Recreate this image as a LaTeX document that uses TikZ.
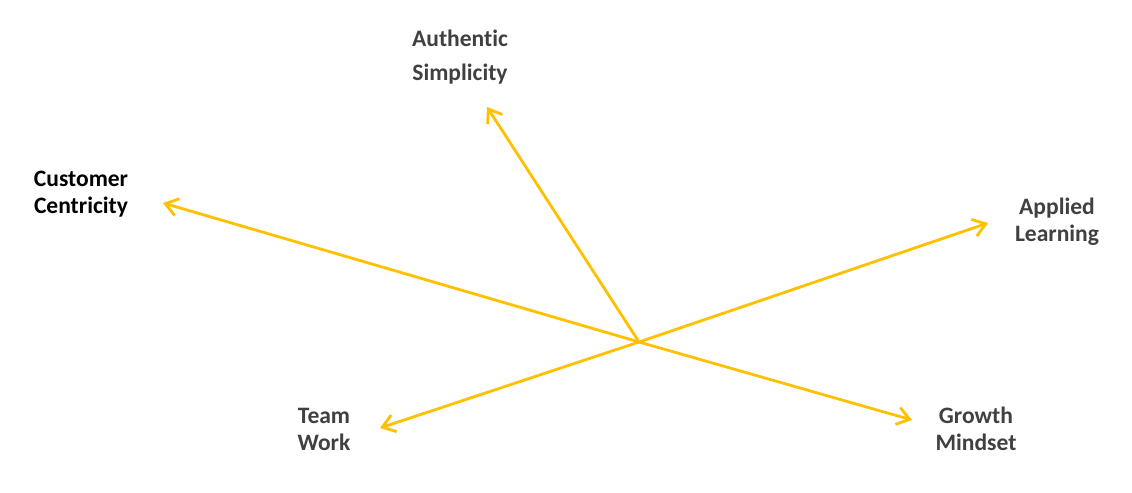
\documentclass[tikz,border=0pt]{standalone}
\usepackage{fontspec}
\setmainfont{Carlito}[RawFeature=-liga]
\usetikzlibrary{arrows.meta}
\definecolor{spoke}{HTML}{FFC000}
\definecolor{labelgray}{HTML}{404040}
\tikzset{
  value/.style={font=\bfseries\fontsize{13.4}{15.4}\selectfont,align=center,text=labelgray,inner sep=0pt},
  spokeline/.style={draw=spoke,line width=1.6pt,-{Straight Barb[length=7pt,width=10pt,line width=1.6pt]}},
}
\begin{document}
\begin{tikzpicture}[x=0.02cm,y=-0.02cm]
   \useasboundingbox (0,0) rectangle (1132,493);
   % centre and arrow ends
   \coordinate (hub) at (639,342);
   \coordinate (tipAS) at (487,107);
   \coordinate (tipCC) at (163,203);
   \coordinate (tipAL) at (988,223);
   \coordinate (tipTW) at (380,428);
   \coordinate (tipGM) at (912,420);
   % labels
   \node[value,font=\bfseries\fontsize{13.4}{19.3}\selectfont] (as) at (460,57) {Authentic\\ Simplicity};
   \node[value,text=black] (cc) at (81,194) {Customer\\ Centricity};
   \node[value] (al) at (1057,222) {Applied\\ Learning};
   \node[value] (tw) at (324,429) {Team\\ Work};
   \node[value] (gm) at (976,429) {Growth\\ Mindset};
   % spokes
   \foreach \t in {tipCC,tipGM,tipAL,tipTW,tipAS}
     \draw[spokeline] (hub) -- (\t);
\end{tikzpicture}
\end{document}
